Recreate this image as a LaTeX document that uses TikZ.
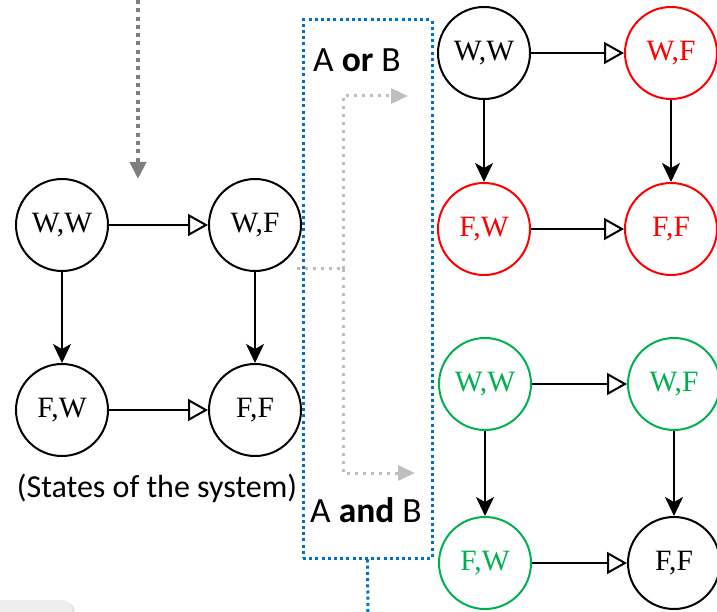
\documentclass[tikz,border=0pt]{standalone}
\usepackage{fontspec}
\setmainfont{Liberation Serif}
\newfontfamily\labelfont{Carlito}
\usetikzlibrary{arrows.meta}
\definecolor{boxblue}{RGB}{0,112,192}
\definecolor{stategreen}{RGB}{0,176,80}
\definecolor{inflow}{RGB}{127,127,127}
\definecolor{lightflow}{RGB}{191,191,191}
\definecolor{panelgray}{RGB}{238,238,238}

\begin{document}
\begin{tikzpicture}[x=1pt,y=-1pt,
  state/.style={circle,draw,line width=2pt,minimum size=92pt,inner sep=0pt,
    font=\fontsize{29.5}{32}\selectfont},
  redstate/.style={state,draw=red,text=red},
  greenstate/.style={state,draw=stategreen,text=stategreen},
  fail/.style={line width=2pt,-{Stealth[length=19pt,width=18pt,inset=5pt]}},
  hop/.style={line width=2pt,-{Triangle[open,length=20pt,width=22pt]}},
  labeltext/.style={font=\labelfont\fontsize{32}{36}\selectfont,inner sep=0pt},
  boxtext/.style={font=\labelfont\fontsize{35.5}{40}\selectfont,inner sep=0pt},
  bluedots/.style={draw=boxblue,line width=3pt,dash pattern=on 3pt off 3.2pt},
  grayflow/.style={draw=lightflow,line width=3pt,dash pattern=on 3pt off 5pt,
    -{Triangle[length=17pt,width=15pt]}},
  topflow/.style={draw=inflow,line width=4pt,dash pattern=on 4pt off 4.3pt,
    -{Triangle[length=17pt,width=16pt]}}
]
\useasboundingbox (0,0) rectangle (717,612);
\clip (0,0) rectangle (717,612);

% panel corner at the lower left
\fill[gray!22] (-20,602) [rounded corners=10pt] -- (75,602) -- (75,640) [sharp corners] -- (-20,640) -- cycle;
\fill[panelgray] (-20,600) [rounded corners=10pt] -- (72,600) -- (72,640) [sharp corners] -- (-20,640) -- cycle;

% states of the system
\node[state] (lww) at (62,225) {W,W};
\node[state] (lwf) at (255,225) {W,F};
\node[state] (lfw) at (62,410) {F,W};
\node[state] (lff) at (255,410) {F,F};
\draw[hop]  (lww) -- (lwf);
\draw[hop]  (lfw) -- (lff);
\draw[fail] (lww) -- (lfw);
\draw[fail] (lwf) -- (lff);
\node[labeltext] (caption) at (157,488) {(States of the system)};

% incoming flow from above
\coordinate (topin) at (138,0);
\coordinate (topend) at (138,179);
\draw[topflow] (topin) -- (topend);

% combination box
\node[bluedots,rectangle,minimum width=129pt,minimum height=538pt,inner sep=0pt]
  (combo) at (367.5,289) {};
\coordinate (comboout) at (368,620);
\draw[bluedots] (combo.south) -- (comboout);
\node[boxtext] (orlabel) at (357,60) {A \textbf{or} B};
\node[boxtext] (andlabel) at (366,510) {A \textbf{and} B};

% split towards the two results
\coordinate (splitstart) at (297,269);
\coordinate (splitpt) at (343,269);
\coordinate (ortip) at (408,96);
\coordinate (andtip) at (415,473);
\draw[draw=lightflow,line width=3pt,dash pattern=on 3pt off 5pt] (splitstart) -- (splitpt);
\draw[grayflow] (splitpt) |- (ortip);
\draw[grayflow] (splitpt) |- (andtip);

% A or B
\node[state]    (oww) at (484,53) {W,W};
\node[redstate] (owf) at (671,53) {W,F};
\node[redstate] (ofw) at (484,229) {F,W};
\node[redstate] (off) at (671,229) {F,F};
\draw[hop]  (oww) -- (owf);
\draw[hop]  (ofw) -- (off);
\draw[fail] (oww) -- (ofw);
\draw[fail] (owf) -- (off);

% A and B
\node[greenstate] (aww) at (485,384) {W,W};
\node[greenstate] (awf) at (674,384) {W,F};
\node[greenstate] (afw) at (485,563) {F,W};
\node[state]      (aff) at (674,563) {F,F};
\draw[hop]  (aww) -- (awf);
\draw[hop]  (afw) -- (aff);
\draw[fail] (aww) -- (afw);
\draw[fail] (awf) -- (aff);
\end{tikzpicture}
\end{document}
